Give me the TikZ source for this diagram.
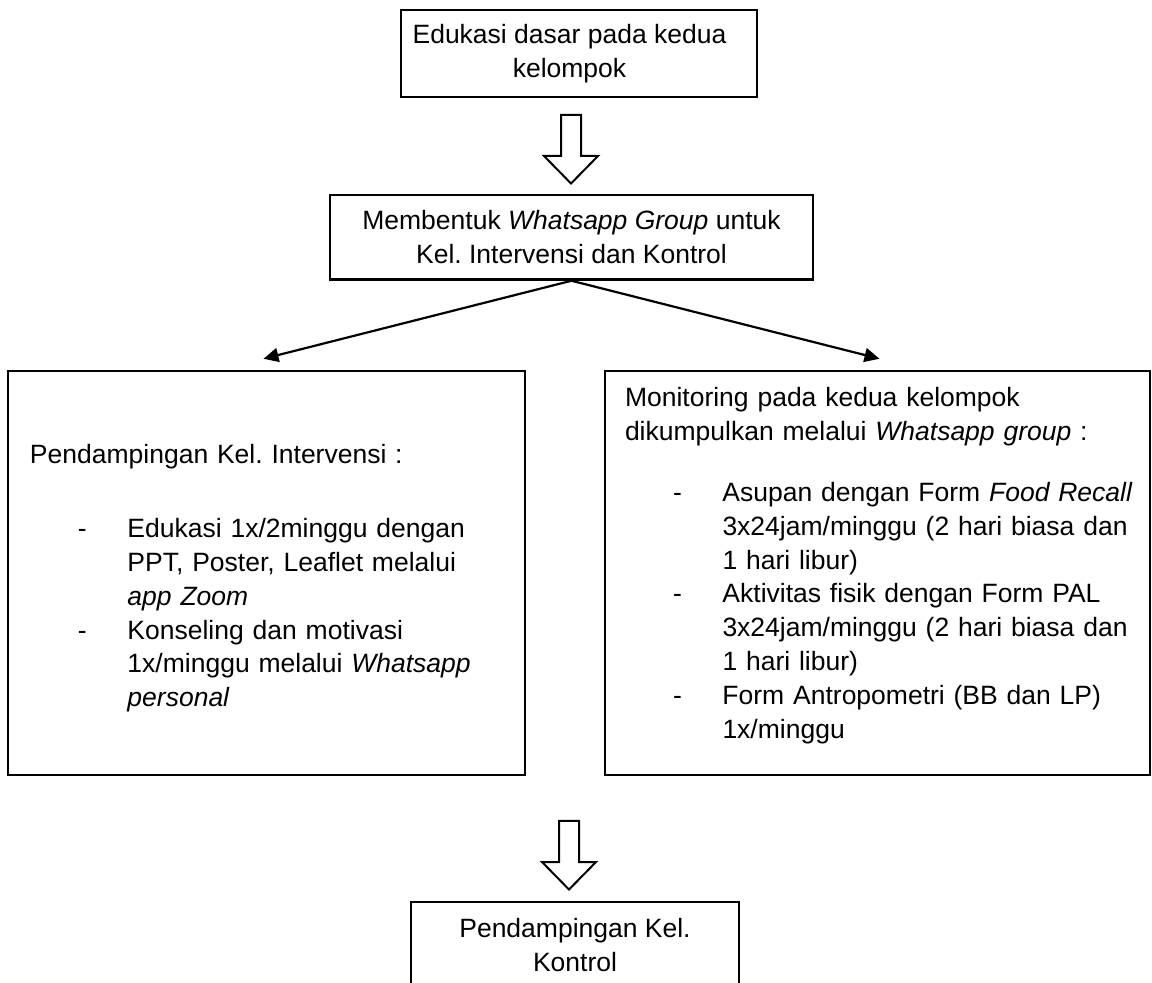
\documentclass[tikz,border=0pt]{standalone}
\usepackage{fontspec}
\setmainfont{Liberation Sans}
\usetikzlibrary{arrows.meta}

\newcommand{\boxfont}{\fontsize{13.25pt}{16.9pt}\selectfont\frenchspacing}
\newcommand{\bul}{\makebox[48.75pt][l]{\hspace*{24pt}-}}
\newcommand{\cnt}{\hspace*{48.75pt}}

\tikzset{
  box/.style={draw, line width=1.25pt, align=center, inner sep=0pt, font=\boxfont},
  listbox/.style={box, align=left},
  conn/.style={-{Triangle[length=7.5pt,width=7pt]}, line width=1.1pt},
  downarr/.pic={
    \draw[line width=1pt, line join=miter] (-10,0) -- (-10,41) -- (-27,41) -- (0,68.5) -- (27,41) -- (10,41) -- (10,0) -- cycle;
  }
}

\begin{document}
\begin{tikzpicture}[x=0.5pt,y=-0.5pt]
\useasboundingbox (0,0) rectangle (1152,983);

\node[box, minimum width=178pt, minimum height=43.5pt] (edu) at (579,53.5) {Edukasi dasar pada kedua\hspace*{9.5pt}\\kelompok\hspace*{9.5pt}};
\pic at (571,115) {downarr};
\node[box, minimum width=241.5pt, minimum height=42.25pt] (wa) at (571.5,237.25) {Membentuk \textit{Whatsapp Group} untuk\\Kel. Intervensi dan Kontrol};

% kelompok intervensi
\node[listbox, text width=236.5pt, inner xsep=11pt, text height=46.5pt, text depth=155.5pt] (intv) at (266.5,573) {%
Pendampingan Kel. Intervensi :\\[20pt]
\bul Edukasi 1x/2minggu dengan\\
\cnt PPT, Poster, Leaflet melalui\\
\cnt \textit{app Zoom}\\
\bul Konseling dan motivasi\\
\cnt 1x/minggu melalui \textit{Whatsapp}\\
\cnt \textit{personal}};

% monitoring
\node[listbox, text width=252.5pt, inner xsep=10pt, text height=18pt, text depth=184pt] (mon) at (877.5,573) {%
Monitoring pada kedua kelompok\\
dikumpulkan melalui \textit{Whatsapp group} :\\[13.5pt]
\bul \mbox{Asupan dengan Form \textit{Food Recall}}\\
\cnt 3x24jam/minggu (2 hari biasa dan\\
\cnt 1 hari libur)\\
\bul Aktivitas fisik dengan Form PAL\\
\cnt 3x24jam/minggu (2 hari biasa dan\\
\cnt 1 hari libur)\\
\bul Form Antropometri (BB dan LP)\\
\cnt 1x/minggu};

\coordinate (tipl) at ([xshift=-1.5pt, yshift=5.5pt]intv.north);
\coordinate (tipr) at ([xshift=1pt, yshift=5.5pt]mon.north);
\draw[conn] (wa.south) -- (tipl);
\draw[conn] (wa.south) -- (tipr);

\pic at (569,821) {downarr};
\node[box, minimum width=164pt, minimum height=43pt] (ktrl) at (575,945) {Pendampingan Kel.\\Kontrol};

\end{tikzpicture}
\end{document}
